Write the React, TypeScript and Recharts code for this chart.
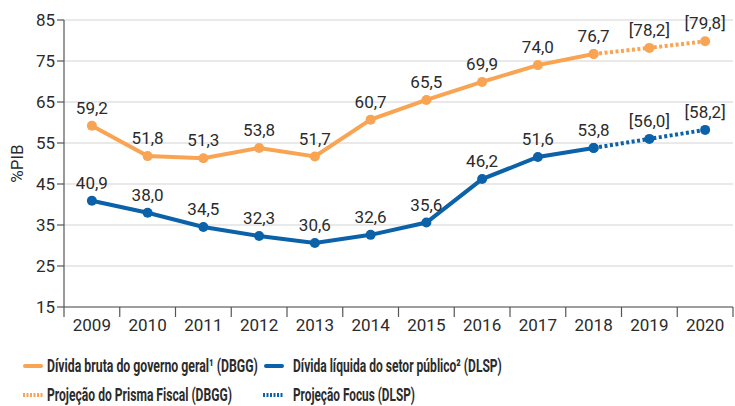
import { LineChart, Line, XAxis, YAxis, CartesianGrid, LabelList } from 'recharts'

const years = ['2009', '2010', '2011', '2012', '2013', '2014', '2015', '2016', '2017', '2018', '2019', '2020']
const dbgg = [59.2, 51.8, 51.3, 53.8, 51.7, 60.7, 65.5, 69.9, 74.0, 76.7, null, null]
const dbggProj = [null, null, null, null, null, null, null, null, null, 76.7, 78.2, 79.8]
const dlsp = [40.9, 38.0, 34.5, 32.3, 30.6, 32.6, 35.6, 46.2, 51.6, 53.8, null, null]
const dlspProj = [null, null, null, null, null, null, null, null, null, 53.8, 56.0, 58.2]
const yTicks = [15, 25, 35, 45, 55, 65, 75, 85]

const ORANGE = '#F9A452'
const BLUE = '#0B62A8'
const TEXT = '#2b2b2b'
const FONT = 'Roboto, sans-serif'
const TXT: any = { fontFamily: FONT, fill: TEXT, fontSize: 17 }
const LEGEND_FONT = 'bold 18px Roboto, sans-serif'

const data = years.map((y, i) => ({
  year: y,
  dbgg: dbgg[i],
  dbggProj: dbggProj[i],
  dlsp: dlsp[i],
  dlspProj: dlspProj[i],
}))

const W = 735
const H = 335
const LEFT = 64
const RIGHT = 2
const BW = (W - LEFT - RIGHT) / years.length

const fmt = (v: any) => (v == null ? '' : Number(v).toFixed(1).replace('.', ','))

// width of a text in the legend font, so it can be squeezed like the condensed original
const measure = (s: string) => {
  const ctx = document.createElement('canvas').getContext('2d')
  if (!ctx) return s.length * 10
  ctx.font = LEGEND_FONT
  return ctx.measureText(s).width
}

const XTick = (props: any) => {
  const { x, y, payload, index } = props
  return (
    <g>
      <line x1={x - BW / 2} x2={x - BW / 2} y1={y - 8} y2={y + 2} stroke="#555" strokeWidth={1.2} />
      {index === years.length - 1 && (
        <line x1={x + BW / 2} x2={x + BW / 2} y1={y - 8} y2={y + 2} stroke="#555" strokeWidth={1.2} />
      )}
      <text x={x} y={y + 16} textAnchor="middle" style={TXT}>
        {payload.value}
      </text>
    </g>
  )
}

const projLabel = (props: any) => {
  const { x, y, value, index } = props
  if (value == null || index < 10) return null
  return (
    <text x={x} y={y - 12} textAnchor="middle" style={TXT}>
      [{fmt(value)}]
    </text>
  )
}

// legend entries: swatch start x, text start x, text width, swatch y
const legendRows = [
  { color: ORANGE, dotted: false, label: 'Dívida bruta do governo geral¹ (DBGG)', sx: 23, tx: 47, tw: 211, y: 366 },
  { color: BLUE, dotted: false, label: 'Dívida líquida do setor público² (DLSP)', sx: 264, tx: 293, tw: 209, y: 366 },
  { color: ORANGE, dotted: true, label: 'Projeção do Prisma Fiscal (DBGG)', sx: 23, tx: 47, tw: 185, y: 395 },
  { color: BLUE, dotted: true, label: 'Projeção Focus (DLSP)', sx: 263, tx: 293, tw: 122, y: 395 },
]

const Legend = () => (
  <svg width={W} height={406} style={{ position: 'absolute', left: 0, top: 0, pointerEvents: 'none' }}>
    {legendRows.map((r) => (
      <g key={r.label}>
        <line
          x1={r.dotted ? r.sx : r.sx + 2}
          x2={r.dotted ? r.sx + 20 : r.sx + 18}
          y1={r.y}
          y2={r.y}
          stroke={r.color}
          strokeWidth={4}
          strokeLinecap={r.dotted ? 'butt' : 'round'}
          strokeDasharray={r.dotted ? '2 1.5' : undefined}
        />
        <g transform={`translate(${r.tx},${r.y + 6}) scale(${r.tw / measure(r.label)},1)`}>
          <text x={0} y={0} style={{ font: LEGEND_FONT, fill: TEXT }}>
            {r.label}
          </text>
        </g>
      </g>
    ))}
  </svg>
)

export default function App() {
  return (
    <div style={{ position: 'absolute', left: 0, top: 0, width: W, height: 406, background: '#fff' }}>
      <LineChart width={W} height={H} data={data} margin={{ top: 20, right: RIGHT, left: 0, bottom: 3 }}>
        <CartesianGrid vertical={false} stroke="#e2e2e2" strokeWidth={1.5} />
        <XAxis
          dataKey="year"
          scale="band"
          axisLine={{ stroke: '#555', strokeWidth: 1.2 }}
          tickLine={false}
          tick={<XTick />}
          height={25}
          interval={0}
        />
        <YAxis
          domain={[15, 85]}
          ticks={yTicks}
          width={LEFT}
          axisLine={{ stroke: '#555', strokeWidth: 1.2 }}
          tickLine={{ stroke: '#555', strokeWidth: 1.2 }}
          tickSize={7}
          tick={TXT}
          label={{ value: '%PIB', angle: -90, position: 'insideLeft', offset: 17, style: { ...TXT, textAnchor: 'middle' } }}
        />
        <Line
          dataKey="dbggProj"
          stroke={ORANGE}
          strokeWidth={4}
          strokeDasharray="3 2.5"
          dot={{ r: 5, fill: ORANGE, stroke: ORANGE, strokeWidth: 0 }}
          isAnimationActive={false}
        >
          <LabelList dataKey="dbggProj" content={projLabel} />
        </Line>
        <Line
          dataKey="dlspProj"
          stroke={BLUE}
          strokeWidth={4}
          strokeDasharray="3 2.5"
          dot={{ r: 5, fill: BLUE, stroke: BLUE, strokeWidth: 0 }}
          isAnimationActive={false}
        >
          <LabelList dataKey="dlspProj" content={projLabel} />
        </Line>
        <Line
          dataKey="dbgg"
          stroke={ORANGE}
          strokeWidth={4}
          dot={{ r: 5, fill: ORANGE, stroke: ORANGE, strokeWidth: 0 }}
          isAnimationActive={false}
        >
          <LabelList dataKey="dbgg" position="top" offset={12} formatter={fmt} style={TXT} />
        </Line>
        <Line
          dataKey="dlsp"
          stroke={BLUE}
          strokeWidth={4}
          dot={{ r: 5, fill: BLUE, stroke: BLUE, strokeWidth: 0 }}
          isAnimationActive={false}
        >
          <LabelList dataKey="dlsp" position="top" offset={12} formatter={fmt} style={TXT} />
        </Line>
      </LineChart>
      <Legend />
    </div>
  )
}
